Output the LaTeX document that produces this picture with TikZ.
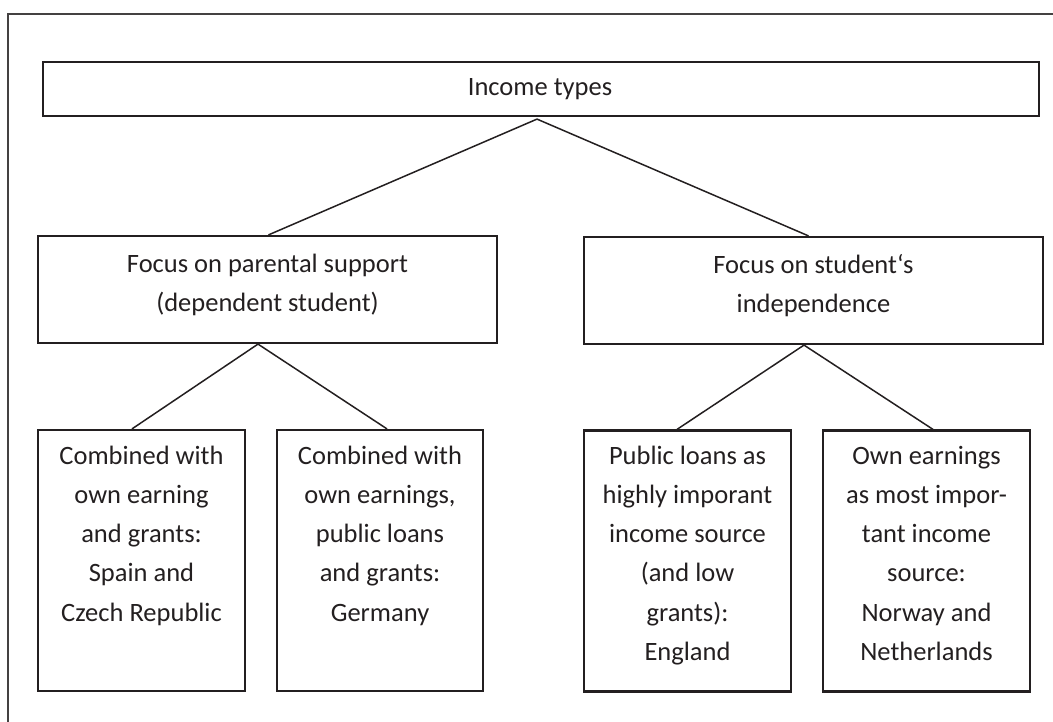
\documentclass[tikz,border=0pt]{standalone}
\usepackage{fontspec}
\setmainfont{Carlito}
\definecolor{ink}{HTML}{231F20}
\newcommand\celltext[2]{\parbox[t]{#1}{\centering #2}}
\tikzset{
  box/.style={draw=ink, line width=2.2bp, rectangle, inner sep=0pt},
  label text/.style={anchor=base, inner sep=0pt, text=ink,
    font=\fontsize{26.5bp}{39.3bp}\selectfont},
  link/.style={draw=ink, line width=1.5bp},
  frame/.style={draw=ink!85, line width=2.4bp}
}
\begin{document}
\begin{tikzpicture}[x=1bp, y=-1bp]
  \useasboundingbox (0,0) rectangle (1053,722);

  % outer frame (only top and left edges fall inside the page)
  \coordinate (fTL) at (8,14);
  \coordinate (fTR) at (1060,14);
  \coordinate (fBL) at (8,730);
  \draw[frame] (fTR) -- (fTL) -- (fBL);

  % level 1
  \node[box, minimum width=996bp, minimum height=54bp] (top) at (541,89) {};
  \node[label text] (topT) at (540,96) {Income types};

  % level 2
  \node[box, minimum width=459bp, minimum height=107bp] (par) at (267.5,289.5) {};
  \node[label text] (parT) at (267.5,272) {\celltext{440bp}{Focus on parental support\\(dependent student)}};
  \node[box, minimum width=459bp, minimum height=107bp] (ind) at (813.5,290.5) {};
  \node[label text] (indT) at (813.5,273) {\celltext{440bp}{Focus on student‘s\\independence}};

  % level 3
  \node[box, minimum width=207bp, minimum height=261bp] (c1) at (141.5,560.5) {};
  \node[label text] (c1T) at (141.5,464) {\celltext{200bp}{Combined with\\own earning\\and grants:\\Spain and\\Czech Republic}};
  \node[box, minimum width=206bp, minimum height=261bp] (c2) at (380,560.5) {};
  \node[label text] (c2T) at (380,464) {\celltext{200bp}{Combined with\\own earnings,\\public loans\\and grants:\\Germany}};
  \node[box, minimum width=207bp, minimum height=261bp] (c3) at (687.5,561) {};
  \node[label text] (c3T) at (687.5,464) {\celltext{200bp}{Public loans as\\highly imporant\\income source\\(and low\\grants):\\England}};
  \node[box, minimum width=207bp, minimum height=261bp] (c4) at (926.5,561) {};
  \node[label text] (c4T) at (926.5,464) {\celltext{200bp}{Own earnings\\as most impor-\\tant income\\source:\\Norway and\\Netherlands}};

  % connectors
  \coordinate (topA) at ([xshift=-4bp, yshift=-2bp]top.south);
  \draw[link] ([xshift=1bp]par.north) -- (topA) -- ([xshift=-5bp]ind.north);
  \coordinate (parA) at ([xshift=-9.5bp]par.south);
  \draw[link] ([xshift=-9.5bp]c1.north) -- (parA) -- ([xshift=7bp]c2.north);
  \coordinate (indA) at ([xshift=-9.5bp]ind.south);
  \draw[link] ([xshift=-10.5bp]c3.north) -- (indA) -- ([xshift=6.5bp]c4.north);
\end{tikzpicture}
\end{document}
